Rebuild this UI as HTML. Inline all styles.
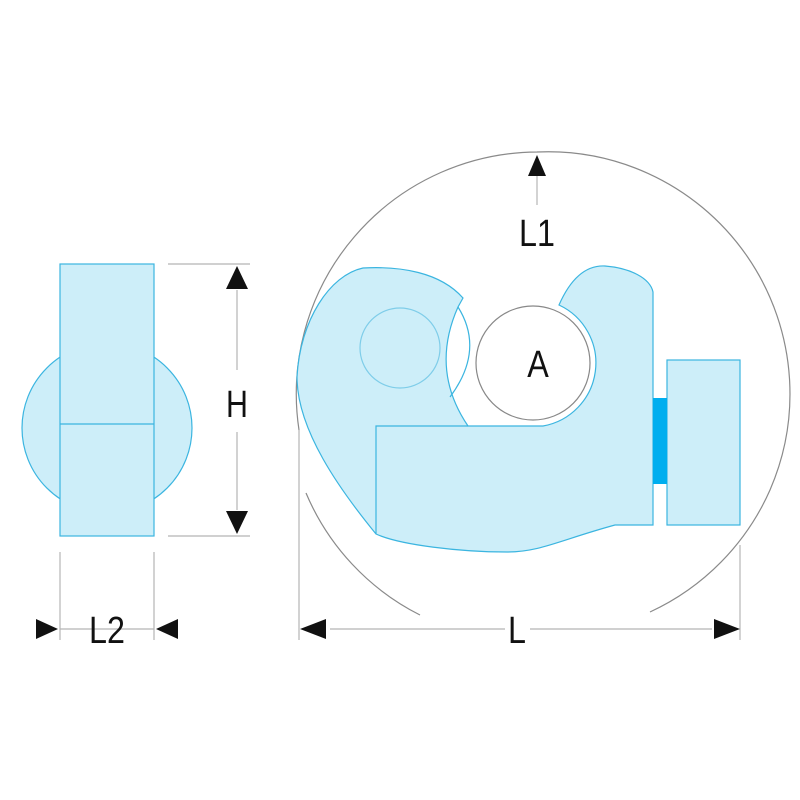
<!DOCTYPE html>
<html><head><style>body{margin:0;background:#fff}svg{display:block}</style></head><body>
<svg width="800" height="800" viewBox="0 0 800 800" xmlns="http://www.w3.org/2000/svg" font-family="Liberation Sans, sans-serif">
<g fill="none" stroke="#8a8a8a" stroke-width="1.2">
<path d="M299 430 A242 242 0 0 1 537 152 A242 242 0 0 1 770 490 A242 242 0 0 1 650 612"/>
<path d="M306 493 A242 242 0 0 0 420 615"/>
</g>
<g stroke="#b5b5b5" stroke-width="1.2">
<line x1="299" y1="430" x2="299" y2="640"/>
<line x1="740" y1="545" x2="740" y2="640"/>
<line x1="330" y1="629" x2="505" y2="629"/><line x1="530" y1="629" x2="712" y2="629"/>
<line x1="537" y1="175" x2="537" y2="205"/>
<line x1="168" y1="264" x2="250" y2="264"/><line x1="168" y1="536" x2="250" y2="536"/>
<line x1="237" y1="290" x2="237" y2="370"/><line x1="237" y1="432" x2="237" y2="510"/>
<line x1="60" y1="552" x2="60" y2="640"/><line x1="154" y1="552" x2="154" y2="640"/>
<line x1="60" y1="629" x2="154" y2="629"/>
</g>
<g fill="#111">
<polygon points="300,629 326,619 326,639"/><polygon points="740,629 714,619 714,639"/>
<polygon points="537,155 528,176 546,176"/>
<polygon points="237,266 226,289 248,289"/><polygon points="237,534 226,511 248,511"/>
<polygon points="58,629 36,619 36,639"/><polygon points="156,629 178,619 178,639"/>
</g>
<g fill="#cdeef9" stroke="#3bb5e0" stroke-width="1.2">
<circle cx="107" cy="428" r="85"/>
<rect x="60" y="264" width="94" height="272"/>
<line x1="60" y1="424" x2="154" y2="424"/>
</g>
<g fill="#cdeef9" stroke="#3bb5e0" stroke-width="1.2">
<path d="M363 268 C400 266 440 272 463 298 L458 307 Q430 370 468 426 L543 426 A64 64 0 0 0 559 305 C570 280 585 265 605 266 C630 268 650 278 653 292 L653 525 L615 525 C560 540 540 552 507 552 C460 552 400 545 376 534 C340 490 297 430 297 377 C300 320 330 275 363 268 Z"/>
<path d="M376 534 L376 426 L468 426" fill="none"/>
<path d="M458 307 Q485 350 450 397" fill="none"/>
<circle cx="400" cy="348" r="40" fill="none" stroke="#7fcde9"/>
<rect x="667" y="360" width="73" height="165"/>
</g>
<rect x="653" y="398" width="14" height="86" fill="#00aeef"/>
<circle cx="533" cy="363" r="57" fill="#fff" stroke="#888" stroke-width="1.2"/>
<g fill="#111" text-anchor="middle" font-size="38">
<text transform="translate(538,377) scale(0.85,1)">A</text>
<text transform="translate(537,246) scale(0.85,1)">L1</text>
<text transform="translate(517,643) scale(0.85,1)">L</text>
<text transform="translate(237,417) scale(0.8,1)">H</text>
<text transform="translate(107,643) scale(0.85,1)">L2</text>
</g>
</svg>
</body></html>
